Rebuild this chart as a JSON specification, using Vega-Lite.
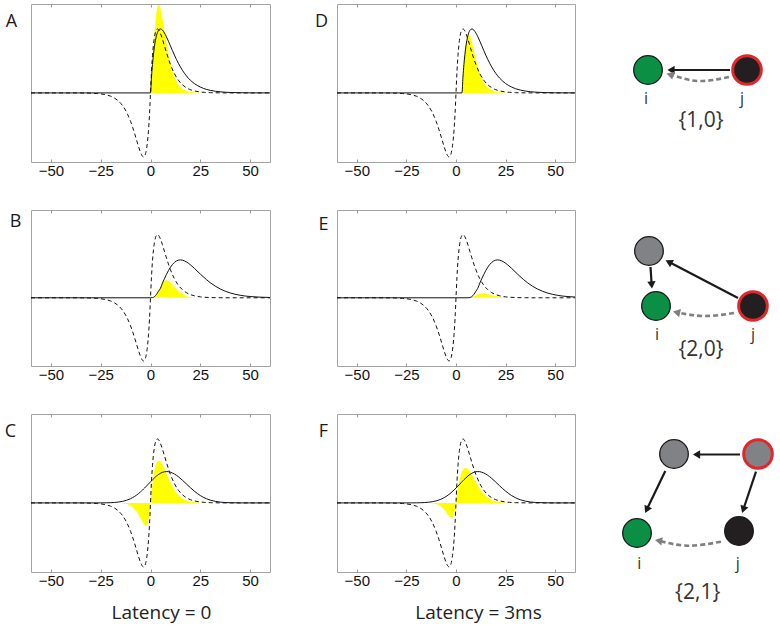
{
"$schema": "https://vega.github.io/schema/vega-lite/v6.json",
"padding": {"left": 3, "top": 3, "right": 0, "bottom": 0},
"background": "white",
"columns": 3,
"align": "each",
"bounds": "flush",
"spacing": {"row": 48, "column": 67},
"datasets": {
"dash": [{"x":-60,"d":0},{"x":-40,"d":0},{"x":-35,"d":-0.001},{"x":-30,"d":-0.004},{"x":-27,"d":-0.009},{"x":-25,"d":-0.015},{"x":-22,"d":-0.032},{"x":-20,"d":-0.051},{"x":-18,"d":-0.082},{"x":-16,"d":-0.129},{"x":-14,"d":-0.199},{"x":-12,"d":-0.302},{"x":-10,"d":-0.446},{"x":-9,"d":-0.534},{"x":-8,"d":-0.632},{"x":-7,"d":-0.736},{"x":-6,"d":-0.84},{"x":-5,"d":-0.93},{"x":-4.5,"d":-0.966},{"x":-4,"d":-0.991},{"x":-3.5,"d":-1},{"x":-3,"d":-0.988},{"x":-2.5,"d":-0.951},{"x":-2,"d":-0.877},{"x":-1.5,"d":-0.759},{"x":-1,"d":-0.584},{"x":-0.5,"d":-0.337},{"x":0,"d":0},{"x":0.5,"d":0.337},{"x":1,"d":0.584},{"x":1.5,"d":0.759},{"x":2,"d":0.877},{"x":2.5,"d":0.951},{"x":3,"d":0.988},{"x":3.5,"d":1},{"x":4,"d":0.991},{"x":4.5,"d":0.966},{"x":5,"d":0.93},{"x":6,"d":0.84},{"x":7,"d":0.736},{"x":8,"d":0.632},{"x":9,"d":0.534},{"x":10,"d":0.446},{"x":12,"d":0.302},{"x":14,"d":0.199},{"x":16,"d":0.129},{"x":18,"d":0.082},{"x":20,"d":0.051},{"x":22,"d":0.032},{"x":25,"d":0.015},{"x":27,"d":0.009},{"x":30,"d":0.004},{"x":35,"d":0.001},{"x":40,"d":0},{"x":60,"d":0}],
"A": [{"x":-60,"s":0,"y":0},{"x":0,"s":0,"y":0},{"x":0.5,"s":0.246,"y":0.118},{"x":1,"s":0.445,"y":0.369},{"x":1.5,"s":0.604,"y":0.651},{"x":2,"s":0.729,"y":0.907},{"x":2.5,"s":0.824,"y":1.113},{"x":3,"s":0.895,"y":1.255},{"x":3.5,"s":0.945,"y":1.342},{"x":4,"s":0.977,"y":1.375},{"x":4.5,"s":0.995,"y":1.365},{"x":5,"s":1,"y":1.321},{"x":6,"s":0.982,"y":1.172},{"x":7,"s":0.938,"y":0.98},{"x":8,"s":0.878,"y":0.788},{"x":9,"s":0.809,"y":0.613},{"x":10,"s":0.736,"y":0.466},{"x":11,"s":0.663,"y":0.347},{"x":12,"s":0.592,"y":0.254},{"x":13,"s":0.525,"y":0.183},{"x":14,"s":0.463,"y":0.131},{"x":16,"s":0.355,"y":0.065},{"x":18,"s":0.267,"y":0.031},{"x":20,"s":0.199,"y":0.014},{"x":22,"s":0.147,"y":0.007},{"x":25,"s":0.092,"y":0.002},{"x":28,"s":0.056,"y":0},{"x":30,"s":0.04,"y":0},{"x":35,"s":0.017,"y":0},{"x":40,"s":0.007,"y":0},{"x":45,"s":0.003,"y":0},{"x":50,"s":0.001,"y":0},{"x":60,"s":0,"y":0}],
"B": [{"x":-60,"s":0,"y":0},{"x":0,"s":0,"y":0},{"x":1,"s":0.003,"y":0.002},{"x":2,"s":0.019,"y":0.019},{"x":3,"s":0.053,"y":0.053},{"x":4,"s":0.103,"y":0.103},{"x":5,"s":0.151,"y":0.151},{"x":6,"s":0.232,"y":0.225},{"x":7,"s":0.302,"y":0.265},{"x":8,"s":0.369,"y":0.28},{"x":9,"s":0.43,"y":0.268},{"x":10,"s":0.483,"y":0.245},{"x":11,"s":0.527,"y":0.21},{"x":12,"s":0.56,"y":0.175},{"x":13,"s":0.583,"y":0.14},{"x":14,"s":0.596,"y":0.11},{"x":15,"s":0.6,"y":0.085},{"x":16,"s":0.596,"y":0.06},{"x":18,"s":0.569,"y":0.03},{"x":20,"s":0.523,"y":0.012},{"x":22,"s":0.467,"y":0.004},{"x":25,"s":0.376,"y":0},{"x":28,"s":0.29,"y":0},{"x":30,"s":0.239,"y":0},{"x":35,"s":0.14,"y":0},{"x":40,"s":0.077,"y":0},{"x":45,"s":0.04,"y":0},{"x":50,"s":0.02,"y":0},{"x":55,"s":0.01,"y":0},{"x":60,"s":0.005,"y":0}],
"C": [{"x":-60,"s":0,"y":0},{"x":-40,"s":0,"y":0},{"x":-30,"s":0,"y":0},{"x":-25,"s":0.0006,"y":0},{"x":-22,"s":0.0019,"y":0},{"x":-20,"s":0.0039,"y":-0.0003},{"x":-18,"s":0.0075,"y":-0.0009},{"x":-16,"s":0.014,"y":-0.0027},{"x":-14,"s":0.0247,"y":-0.0074},{"x":-12,"s":0.0415,"y":-0.0188},{"x":-10,"s":0.0663,"y":-0.0444},{"x":-9,"s":0.0823,"y":-0.0659},{"x":-8,"s":0.101,"y":-0.0957},{"x":-7,"s":0.122,"y":-0.1347},{"x":-6,"s":0.146,"y":-0.184},{"x":-5,"s":0.173,"y":-0.241},{"x":-4.5,"s":0.187,"y":-0.271},{"x":-4,"s":0.201,"y":-0.299},{"x":-3.5,"s":0.217,"y":-0.3255},{"x":-3,"s":0.232,"y":-0.344},{"x":-2.5,"s":0.248,"y":-0.354},{"x":-2,"s":0.264,"y":-0.347},{"x":-1.5,"s":0.281,"y":-0.32},{"x":-1,"s":0.297,"y":-0.26},{"x":-0.5,"s":0.314,"y":-0.159},{"x":0,"s":0.33,"y":0},{"x":0.5,"s":0.346,"y":0.175},{"x":1,"s":0.362,"y":0.317},{"x":1.5,"s":0.377,"y":0.429},{"x":2,"s":0.392,"y":0.516},{"x":2.5,"s":0.407,"y":0.581},{"x":3,"s":0.42,"y":0.622},{"x":3.5,"s":0.432,"y":0.648},{"x":4,"s":0.444,"y":0.66},{"x":4.5,"s":0.454,"y":0.658},{"x":5,"s":0.464,"y":0.647},{"x":6,"s":0.478,"y":0.602},{"x":7,"s":0.487,"y":0.538},{"x":8,"s":0.49,"y":0.465},{"x":9,"s":0.488,"y":0.391},{"x":10,"s":0.48,"y":0.321},{"x":11,"s":0.468,"y":0.259},{"x":12,"s":0.452,"y":0.205},{"x":13,"s":0.432,"y":0.159},{"x":14,"s":0.409,"y":0.122},{"x":16,"s":0.356,"y":0.069},{"x":18,"s":0.297,"y":0.036},{"x":20,"s":0.239,"y":0.018},{"x":22,"s":0.184,"y":0.009},{"x":25,"s":0.1155,"y":0.003},{"x":28,"s":0.066,"y":0.001},{"x":30,"s":0.0436,"y":0},{"x":35,"s":0.0128,"y":0},{"x":40,"s":0.0029,"y":0},{"x":45,"s":0.0005,"y":0},{"x":50,"s":0,"y":0},{"x":60,"s":0,"y":0}],
"D": [{"x":-60,"s":0,"y":0},{"x":3,"s":0,"y":0},{"x":3.5,"s":0.246,"y":0.246},{"x":4,"s":0.445,"y":0.445},{"x":4.5,"s":0.604,"y":0.604},{"x":5,"s":0.729,"y":0.729},{"x":5.5,"s":0.824,"y":0.824},{"x":6,"s":0.895,"y":0.895},{"x":6.5,"s":0.945,"y":0.925},{"x":7,"s":0.977,"y":0.9},{"x":8,"s":1,"y":0.796},{"x":9,"s":0.982,"y":0.661},{"x":10,"s":0.938,"y":0.527},{"x":11,"s":0.878,"y":0.408},{"x":12,"s":0.809,"y":0.308},{"x":13,"s":0.736,"y":0.228},{"x":14,"s":0.663,"y":0.166},{"x":16,"s":0.525,"y":0.085},{"x":18,"s":0.406,"y":0.042},{"x":20,"s":0.308,"y":0.02},{"x":22,"s":0.231,"y":0.009},{"x":25,"s":0.147,"y":0.003},{"x":28,"s":0.092,"y":0},{"x":30,"s":0.066,"y":0},{"x":35,"s":0.029,"y":0},{"x":40,"s":0.012,"y":0},{"x":45,"s":0.005,"y":0},{"x":50,"s":0.002,"y":0},{"x":55,"s":0.001,"y":0},{"x":60,"s":0,"y":0}],
"E": [{"x":-60,"s":0,"y":0},{"x":6,"s":0,"y":0},{"x":7,"s":0.003,"y":0.002},{"x":8,"s":0.019,"y":0.011},{"x":9,"s":0.053,"y":0.026},{"x":10,"s":0.103,"y":0.042},{"x":11,"s":0.151,"y":0.052},{"x":12,"s":0.232,"y":0.064},{"x":13,"s":0.302,"y":0.068},{"x":14,"s":0.369,"y":0.067},{"x":15,"s":0.43,"y":0.063},{"x":16,"s":0.483,"y":0.057},{"x":17,"s":0.527,"y":0.05},{"x":18,"s":0.56,"y":0.042},{"x":19,"s":0.583,"y":0.035},{"x":20,"s":0.596,"y":0.028},{"x":21,"s":0.6,"y":0.022},{"x":22,"s":0.596,"y":0.017},{"x":24,"s":0.569,"y":0.01},{"x":26,"s":0.523,"y":0.006},{"x":28,"s":0.467,"y":0.003},{"x":31,"s":0.376,"y":0.001},{"x":34,"s":0.29,"y":0},{"x":36,"s":0.239,"y":0},{"x":41,"s":0.14,"y":0},{"x":46,"s":0.077,"y":0},{"x":51,"s":0.04,"y":0},{"x":56,"s":0.02,"y":0},{"x":60,"s":0.012,"y":0}],
"F": [{"x":-60,"s":0,"y":0},{"x":-40,"s":0,"y":0},{"x":-30,"s":0,"y":0},{"x":-25,"s":0.0002,"y":0},{"x":-22,"s":0.0006,"y":0},{"x":-20,"s":0.0013,"y":0},{"x":-18,"s":0.0027,"y":0},{"x":-16,"s":0.0054,"y":-0.001},{"x":-14,"s":0.0103,"y":-0.003},{"x":-12,"s":0.0187,"y":-0.0085},{"x":-10,"s":0.0322,"y":-0.0215},{"x":-9,"s":0.0415,"y":-0.0332},{"x":-8,"s":0.0528,"y":-0.05},{"x":-7,"s":0.0663,"y":-0.073},{"x":-6,"s":0.0823,"y":-0.104},{"x":-5,"s":0.101,"y":-0.141},{"x":-4.5,"s":0.111,"y":-0.161},{"x":-4,"s":0.122,"y":-0.181},{"x":-3.5,"s":0.134,"y":-0.201},{"x":-3,"s":0.146,"y":-0.216},{"x":-2.5,"s":0.159,"y":-0.227},{"x":-2,"s":0.173,"y":-0.228},{"x":-1.5,"s":0.187,"y":-0.213},{"x":-1,"s":0.201,"y":-0.176},{"x":-0.5,"s":0.217,"y":-0.11},{"x":0,"s":0.232,"y":0},{"x":0.5,"s":0.248,"y":0.125},{"x":1,"s":0.264,"y":0.231},{"x":1.5,"s":0.281,"y":0.32},{"x":2,"s":0.297,"y":0.391},{"x":2.5,"s":0.314,"y":0.448},{"x":3,"s":0.33,"y":0.489},{"x":3.5,"s":0.346,"y":0.519},{"x":4,"s":0.362,"y":0.538},{"x":4.5,"s":0.377,"y":0.546},{"x":5,"s":0.392,"y":0.547},{"x":6,"s":0.42,"y":0.529},{"x":7,"s":0.444,"y":0.49},{"x":8,"s":0.464,"y":0.44},{"x":9,"s":0.478,"y":0.383},{"x":10,"s":0.487,"y":0.326},{"x":11,"s":0.49,"y":0.271},{"x":12,"s":0.488,"y":0.221},{"x":13,"s":0.48,"y":0.177},{"x":14,"s":0.468,"y":0.14},{"x":16,"s":0.432,"y":0.083},{"x":18,"s":0.3835,"y":0.047},{"x":20,"s":0.327,"y":0.025},{"x":22,"s":0.2675,"y":0.013},{"x":25,"s":0.184,"y":0.004},{"x":28,"s":0.1155,"y":0.001},{"x":30,"s":0.0806,"y":0},{"x":35,"s":0.0275,"y":0},{"x":40,"s":0.0073,"y":0},{"x":45,"s":0.0015,"y":0},{"x":50,"s":0.0002,"y":0},{"x":60,"s":0,"y":0}],
"n1": [
{"kind":"node","x":6,"y":66,"role":"target","ring":"no"},
{"kind":"node","x":105,"y":66,"role":"source","ring":"red"},
{"kind":"edge","x":88,"y":66,"x2":30,"y2":66},
{"kind":"head","x":29,"y":66,"ang":270,"style":"solid"},
{"kind":"curve","x":87,"y":73,"seq":1},{"kind":"curve","x":56,"y":77,"seq":2},{"kind":"curve","x":29,"y":70.5,"seq":3},
{"kind":"head","x":28,"y":70.5,"ang":288,"style":"dashed"},
{"kind":"label","x":4,"y":100,"txt":"i"},
{"kind":"label","x":100,"y":100,"txt":"j"},
{"kind":"caption","x":59,"y":123,"txt":"{1,0}"}
],
"n2": [
{"kind":"node","x":7,"y":41,"role":"relay","ring":"no"},
{"kind":"node","x":14,"y":96,"role":"target","ring":"no"},
{"kind":"node","x":111,"y":96,"role":"source","ring":"red"},
{"kind":"edge","x":96,"y":88,"x2":28,"y2":52.5},
{"kind":"edge","x":8.5,"y":57,"x2":9.6,"y2":74},
{"kind":"head","x":26.8,"y":51.9,"ang":298,"style":"solid"},
{"kind":"head","x":9.7,"y":75,"ang":176,"style":"solid"},
{"kind":"curve","x":92,"y":103,"seq":1},{"kind":"curve","x":62,"y":106,"seq":2},{"kind":"curve","x":35,"y":102.3,"seq":3},
{"kind":"head","x":34.5,"y":102.3,"ang":283,"style":"dashed"},
{"kind":"label","x":15,"y":130,"txt":"i"},
{"kind":"label","x":111,"y":130,"txt":"j"},
{"kind":"caption","x":59,"y":146,"txt":"{2,0}"}
],
"n3": [
{"kind":"node","x":32,"y":40,"role":"relay","ring":"no"},
{"kind":"node","x":116,"y":40,"role":"relay","ring":"red"},
{"kind":"node","x":-5,"y":119,"role":"target","ring":"no"},
{"kind":"node","x":97,"y":117,"role":"source","ring":"no"},
{"kind":"edge","x":98,"y":40.5,"x2":56,"y2":40.5},
{"kind":"edge","x":23.3,"y":57,"x2":5.5,"y2":94},
{"kind":"edge","x":114,"y":57.7,"x2":101.8,"y2":94},
{"kind":"head","x":54.5,"y":40.5,"ang":270,"style":"solid"},
{"kind":"head","x":4.7,"y":95.7,"ang":205.6,"style":"solid"},
{"kind":"head","x":101.3,"y":95.5,"ang":198.6,"style":"solid"},
{"kind":"curve","x":79,"y":127.7,"seq":1},{"kind":"curve","x":45.7,"y":131.7,"seq":2},{"kind":"curve","x":17,"y":126.7,"seq":3},
{"kind":"head","x":16.5,"y":126.7,"ang":280,"style":"dashed"},
{"kind":"label","x":-2.7,"y":155,"txt":"i"},
{"kind":"label","x":95.7,"y":155,"txt":"j"},
{"kind":"caption","x":55.7,"y":185,"txt":"{2,1}"}
]
},
"concat": [
{"width":239,"height":158,"resolve":{"axis":{"x":"independent"}},"layer":[
{"data":{"name":"A"},"mark":{"type":"area","color":"#ffff00","interpolate":"monotone"},"encoding":{"x":{"field":"x","type":"quantitative","scale":{"domain":[-60,60],"nice":false,"zero":false},"axis":{"orient":"bottom","values":[-50,-25,0,25,50],"tickSize":-3,"tickColor":"#999","labelPadding":4,"labelFontSize":15,"labelColor":"#111","labelFlush":false,"domain":false,"grid":false,"title":null}},"y":{"field":"y","type":"quantitative","scale":{"domain":[-1.08,1.39],"nice":false,"zero":false},"axis":{"title":"A","titleAngle":0,"titleX":-20,"titleY":22,"titleAlign":"center","titleBaseline":"alphabetic","titleFontSize":18,"titleFontWeight":"normal","titleColor":"#1a1a1a","labels":false,"ticks":false,"domain":false,"grid":false}},"y2":{"datum":0}}},
{"data":{"name":"dash"},"mark":{"type":"line","color":"#111","strokeWidth":1,"strokeDash":[4,3],"interpolate":"monotone"},"encoding":{"x":{"field":"x","type":"quantitative","scale":{"domain":[-60,60],"nice":false,"zero":false},"axis":null},"y":{"field":"d","type":"quantitative","scale":{"domain":[-1.08,1.39],"nice":false,"zero":false},"axis":{"title":"A","titleAngle":0,"titleX":-20,"titleY":22,"titleAlign":"center","titleBaseline":"alphabetic","titleFontSize":18,"titleFontWeight":"normal","titleColor":"#1a1a1a","labels":false,"ticks":false,"domain":false,"grid":false}}}},
{"data":{"name":"A"},"mark":{"type":"line","color":"#111","strokeWidth":1,"interpolate":"monotone"},"encoding":{"x":{"field":"x","type":"quantitative","scale":{"domain":[-60,60],"nice":false,"zero":false},"axis":null},"y":{"field":"s","type":"quantitative","scale":{"domain":[-1.08,1.39],"nice":false,"zero":false},"axis":{"title":"A","titleAngle":0,"titleX":-20,"titleY":22,"titleAlign":"center","titleBaseline":"alphabetic","titleFontSize":18,"titleFontWeight":"normal","titleColor":"#1a1a1a","labels":false,"ticks":false,"domain":false,"grid":false}}}},
{"data":{"name":"A"},"mark":{"type":"line","opacity":0},"encoding":{"x":{"field":"x","type":"quantitative","scale":{"domain":[-60,60],"nice":false,"zero":false},"axis":{"orient":"top","values":[-50,-25,0,25,50],"tickSize":-3,"tickColor":"#999","labels":false,"domain":false,"grid":false,"title":null}},"y":{"field":"s","type":"quantitative","scale":{"domain":[-1.08,1.39],"nice":false,"zero":false},"axis":{"title":"A","titleAngle":0,"titleX":-20,"titleY":22,"titleAlign":"center","titleBaseline":"alphabetic","titleFontSize":18,"titleFontWeight":"normal","titleColor":"#1a1a1a","labels":false,"ticks":false,"domain":false,"grid":false}}}}
]},
{"width":238,"height":158,"resolve":{"axis":{"x":"independent"}},"layer":[
{"data":{"name":"D"},"mark":{"type":"area","color":"#ffff00","interpolate":"monotone"},"encoding":{"x":{"field":"x","type":"quantitative","scale":{"domain":[-60,60],"nice":false,"zero":false},"axis":{"orient":"bottom","values":[-50,-25,0,25,50],"tickSize":-3,"tickColor":"#999","labelPadding":4,"labelFontSize":15,"labelColor":"#111","labelFlush":false,"domain":false,"grid":false,"title":null}},"y":{"field":"y","type":"quantitative","scale":{"domain":[-1.08,1.39],"nice":false,"zero":false},"axis":{"title":"D","titleAngle":0,"titleX":-16,"titleY":22,"titleAlign":"center","titleBaseline":"alphabetic","titleFontSize":18,"titleFontWeight":"normal","titleColor":"#1a1a1a","labels":false,"ticks":false,"domain":false,"grid":false}},"y2":{"datum":0}}},
{"data":{"name":"dash"},"mark":{"type":"line","color":"#111","strokeWidth":1,"strokeDash":[4,3],"interpolate":"monotone"},"encoding":{"x":{"field":"x","type":"quantitative","scale":{"domain":[-60,60],"nice":false,"zero":false},"axis":null},"y":{"field":"d","type":"quantitative","scale":{"domain":[-1.08,1.39],"nice":false,"zero":false},"axis":{"title":"D","titleAngle":0,"titleX":-16,"titleY":22,"titleAlign":"center","titleBaseline":"alphabetic","titleFontSize":18,"titleFontWeight":"normal","titleColor":"#1a1a1a","labels":false,"ticks":false,"domain":false,"grid":false}}}},
{"data":{"name":"D"},"mark":{"type":"line","color":"#111","strokeWidth":1,"interpolate":"monotone"},"encoding":{"x":{"field":"x","type":"quantitative","scale":{"domain":[-60,60],"nice":false,"zero":false},"axis":null},"y":{"field":"s","type":"quantitative","scale":{"domain":[-1.08,1.39],"nice":false,"zero":false},"axis":{"title":"D","titleAngle":0,"titleX":-16,"titleY":22,"titleAlign":"center","titleBaseline":"alphabetic","titleFontSize":18,"titleFontWeight":"normal","titleColor":"#1a1a1a","labels":false,"ticks":false,"domain":false,"grid":false}}}},
{"data":{"name":"D"},"mark":{"type":"line","opacity":0},"encoding":{"x":{"field":"x","type":"quantitative","scale":{"domain":[-60,60],"nice":false,"zero":false},"axis":{"orient":"top","values":[-50,-25,0,25,50],"tickSize":-3,"tickColor":"#999","labels":false,"domain":false,"grid":false,"title":null}},"y":{"field":"s","type":"quantitative","scale":{"domain":[-1.08,1.39],"nice":false,"zero":false},"axis":{"title":"D","titleAngle":0,"titleX":-16,"titleY":22,"titleAlign":"center","titleBaseline":"alphabetic","titleFontSize":18,"titleFontWeight":"normal","titleColor":"#1a1a1a","labels":false,"ticks":false,"domain":false,"grid":false}}}}
]},
{"width":139,"height":158,"view":{"stroke":null},"data":{"name":"n1"},"encoding":{"x":{"field":"x","type":"quantitative","scale":{"domain":[0,139],"nice":false,"zero":false},"axis":null},"y":{"field":"y","type":"quantitative","scale":{"domain":[0,158],"reverse":true,"nice":false,"zero":false},"axis":null}},"layer":[
{"transform":[{"filter":"datum.kind==='edge'"}],"mark":{"type":"rule","color":"#1a1a1a","strokeWidth":2.2},"encoding":{"x2":{"field":"x2"},"y2":{"field":"y2"}}},
{"transform":[{"filter":"datum.kind==='curve'"}],"mark":{"type":"line","color":"#7f7f7f","strokeWidth":2.6,"strokeDash":[5,3],"interpolate":"natural"},"encoding":{"order":{"field":"seq","type":"quantitative"}}},
{"transform":[{"filter":"datum.kind==='head'"}],"mark":{"type":"point","shape":"triangle-up","filled":true,"size":70,"opacity":1},"encoding":{"angle":{"field":"ang","type":"quantitative","scale":null},"color":{"field":"style","type":"nominal","scale":{"domain":["solid","dashed"],"range":["#1a1a1a","#7f7f7f"]},"legend":null}}},
{"transform":[{"filter":"datum.kind==='node'"}],"mark":{"type":"point","shape":"circle","filled":true,"size":820,"opacity":1},"encoding":{"fill":{"field":"role","type":"nominal","scale":{"domain":["target","source","relay"],"range":["#0b8f45","#231f20","#808285"]},"legend":null},"stroke":{"field":"ring","type":"nominal","scale":{"domain":["red","no"],"range":["#e1262c","#1a1a1a"]},"legend":null},"strokeWidth":{"condition":{"test":"datum.ring==='red'","value":3},"value":1.3}}},
{"transform":[{"filter":"datum.kind==='label'"}],"mark":{"type":"text","font":"Open Sans","fontSize":16,"color":"#333","align":"center","baseline":"alphabetic"},"encoding":{"text":{"field":"txt"}}},
{"transform":[{"filter":"datum.kind==='caption'"}],"mark":{"type":"text","font":"Open Sans","fontSize":21,"color":"#333","align":"center","baseline":"alphabetic"},"encoding":{"text":{"field":"txt"}}}
]},
{"width":239,"height":156,"resolve":{"axis":{"x":"independent"}},"layer":[
{"data":{"name":"B"},"mark":{"type":"area","color":"#ffff00","interpolate":"monotone"},"encoding":{"x":{"field":"x","type":"quantitative","scale":{"domain":[-60,60],"nice":false,"zero":false},"axis":{"orient":"bottom","values":[-50,-25,0,25,50],"tickSize":-3,"tickColor":"#999","labelPadding":4,"labelFontSize":15,"labelColor":"#111","labelFlush":false,"domain":false,"grid":false,"title":null}},"y":{"field":"y","type":"quantitative","scale":{"domain":[-1.08,1.39],"nice":false,"zero":false},"axis":{"title":"B","titleAngle":0,"titleX":-16,"titleY":16,"titleAlign":"center","titleBaseline":"alphabetic","titleFontSize":18,"titleFontWeight":"normal","titleColor":"#1a1a1a","labels":false,"ticks":false,"domain":false,"grid":false}},"y2":{"datum":0}}},
{"data":{"name":"dash"},"mark":{"type":"line","color":"#111","strokeWidth":1,"strokeDash":[4,3],"interpolate":"monotone"},"encoding":{"x":{"field":"x","type":"quantitative","scale":{"domain":[-60,60],"nice":false,"zero":false},"axis":null},"y":{"field":"d","type":"quantitative","scale":{"domain":[-1.08,1.39],"nice":false,"zero":false},"axis":{"title":"B","titleAngle":0,"titleX":-16,"titleY":16,"titleAlign":"center","titleBaseline":"alphabetic","titleFontSize":18,"titleFontWeight":"normal","titleColor":"#1a1a1a","labels":false,"ticks":false,"domain":false,"grid":false}}}},
{"data":{"name":"B"},"mark":{"type":"line","color":"#111","strokeWidth":1,"interpolate":"monotone"},"encoding":{"x":{"field":"x","type":"quantitative","scale":{"domain":[-60,60],"nice":false,"zero":false},"axis":null},"y":{"field":"s","type":"quantitative","scale":{"domain":[-1.08,1.39],"nice":false,"zero":false},"axis":{"title":"B","titleAngle":0,"titleX":-16,"titleY":16,"titleAlign":"center","titleBaseline":"alphabetic","titleFontSize":18,"titleFontWeight":"normal","titleColor":"#1a1a1a","labels":false,"ticks":false,"domain":false,"grid":false}}}},
{"data":{"name":"B"},"mark":{"type":"line","opacity":0},"encoding":{"x":{"field":"x","type":"quantitative","scale":{"domain":[-60,60],"nice":false,"zero":false},"axis":{"orient":"top","values":[-50,-25,0,25,50],"tickSize":-3,"tickColor":"#999","labels":false,"domain":false,"grid":false,"title":null}},"y":{"field":"s","type":"quantitative","scale":{"domain":[-1.08,1.39],"nice":false,"zero":false},"axis":{"title":"B","titleAngle":0,"titleX":-16,"titleY":16,"titleAlign":"center","titleBaseline":"alphabetic","titleFontSize":18,"titleFontWeight":"normal","titleColor":"#1a1a1a","labels":false,"ticks":false,"domain":false,"grid":false}}}}
]},
{"width":238,"height":156,"resolve":{"axis":{"x":"independent"}},"layer":[
{"data":{"name":"E"},"mark":{"type":"area","color":"#ffff00","interpolate":"monotone"},"encoding":{"x":{"field":"x","type":"quantitative","scale":{"domain":[-60,60],"nice":false,"zero":false},"axis":{"orient":"bottom","values":[-50,-25,0,25,50],"tickSize":-3,"tickColor":"#999","labelPadding":4,"labelFontSize":15,"labelColor":"#111","labelFlush":false,"domain":false,"grid":false,"title":null}},"y":{"field":"y","type":"quantitative","scale":{"domain":[-1.08,1.39],"nice":false,"zero":false},"axis":{"title":"E","titleAngle":0,"titleX":-14,"titleY":19,"titleAlign":"center","titleBaseline":"alphabetic","titleFontSize":18,"titleFontWeight":"normal","titleColor":"#1a1a1a","labels":false,"ticks":false,"domain":false,"grid":false}},"y2":{"datum":0}}},
{"data":{"name":"dash"},"mark":{"type":"line","color":"#111","strokeWidth":1,"strokeDash":[4,3],"interpolate":"monotone"},"encoding":{"x":{"field":"x","type":"quantitative","scale":{"domain":[-60,60],"nice":false,"zero":false},"axis":null},"y":{"field":"d","type":"quantitative","scale":{"domain":[-1.08,1.39],"nice":false,"zero":false},"axis":{"title":"E","titleAngle":0,"titleX":-14,"titleY":19,"titleAlign":"center","titleBaseline":"alphabetic","titleFontSize":18,"titleFontWeight":"normal","titleColor":"#1a1a1a","labels":false,"ticks":false,"domain":false,"grid":false}}}},
{"data":{"name":"E"},"mark":{"type":"line","color":"#111","strokeWidth":1,"interpolate":"monotone"},"encoding":{"x":{"field":"x","type":"quantitative","scale":{"domain":[-60,60],"nice":false,"zero":false},"axis":null},"y":{"field":"s","type":"quantitative","scale":{"domain":[-1.08,1.39],"nice":false,"zero":false},"axis":{"title":"E","titleAngle":0,"titleX":-14,"titleY":19,"titleAlign":"center","titleBaseline":"alphabetic","titleFontSize":18,"titleFontWeight":"normal","titleColor":"#1a1a1a","labels":false,"ticks":false,"domain":false,"grid":false}}}},
{"data":{"name":"E"},"mark":{"type":"line","opacity":0},"encoding":{"x":{"field":"x","type":"quantitative","scale":{"domain":[-60,60],"nice":false,"zero":false},"axis":{"orient":"top","values":[-50,-25,0,25,50],"tickSize":-3,"tickColor":"#999","labels":false,"domain":false,"grid":false,"title":null}},"y":{"field":"s","type":"quantitative","scale":{"domain":[-1.08,1.39],"nice":false,"zero":false},"axis":{"title":"E","titleAngle":0,"titleX":-14,"titleY":19,"titleAlign":"center","titleBaseline":"alphabetic","titleFontSize":18,"titleFontWeight":"normal","titleColor":"#1a1a1a","labels":false,"ticks":false,"domain":false,"grid":false}}}}
]},
{"width":139,"height":156,"view":{"stroke":null},"data":{"name":"n2"},"encoding":{"x":{"field":"x","type":"quantitative","scale":{"domain":[0,139],"nice":false,"zero":false},"axis":null},"y":{"field":"y","type":"quantitative","scale":{"domain":[0,156],"reverse":true,"nice":false,"zero":false},"axis":null}},"layer":[
{"transform":[{"filter":"datum.kind==='edge'"}],"mark":{"type":"rule","color":"#1a1a1a","strokeWidth":2.2},"encoding":{"x2":{"field":"x2"},"y2":{"field":"y2"}}},
{"transform":[{"filter":"datum.kind==='curve'"}],"mark":{"type":"line","color":"#7f7f7f","strokeWidth":2.6,"strokeDash":[5,3],"interpolate":"natural"},"encoding":{"order":{"field":"seq","type":"quantitative"}}},
{"transform":[{"filter":"datum.kind==='head'"}],"mark":{"type":"point","shape":"triangle-up","filled":true,"size":70,"opacity":1},"encoding":{"angle":{"field":"ang","type":"quantitative","scale":null},"color":{"field":"style","type":"nominal","scale":{"domain":["solid","dashed"],"range":["#1a1a1a","#7f7f7f"]},"legend":null}}},
{"transform":[{"filter":"datum.kind==='node'"}],"mark":{"type":"point","shape":"circle","filled":true,"size":820,"opacity":1},"encoding":{"fill":{"field":"role","type":"nominal","scale":{"domain":["target","source","relay"],"range":["#0b8f45","#231f20","#808285"]},"legend":null},"stroke":{"field":"ring","type":"nominal","scale":{"domain":["red","no"],"range":["#e1262c","#1a1a1a"]},"legend":null},"strokeWidth":{"condition":{"test":"datum.ring==='red'","value":3},"value":1.3}}},
{"transform":[{"filter":"datum.kind==='label'"}],"mark":{"type":"text","font":"Open Sans","fontSize":16,"color":"#333","align":"center","baseline":"alphabetic"},"encoding":{"text":{"field":"txt"}}},
{"transform":[{"filter":"datum.kind==='caption'"}],"mark":{"type":"text","font":"Open Sans","fontSize":21,"color":"#333","align":"center","baseline":"alphabetic"},"encoding":{"text":{"field":"txt"}}}
]},
{"width":239,"height":158,"resolve":{"axis":{"x":"independent"}},"layer":[
{"data":{"name":"C"},"mark":{"type":"area","color":"#ffff00","interpolate":"monotone"},"encoding":{"x":{"field":"x","type":"quantitative","scale":{"domain":[-60,60],"nice":false,"zero":false},"axis":{"orient":"bottom","values":[-50,-25,0,25,50],"tickSize":-3,"tickColor":"#999","labelPadding":4,"labelFontSize":15,"labelColor":"#111","labelFlush":false,"domain":false,"grid":false,"title":"Latency = 0","titleX":130,"titleY":46,"titleAlign":"center","titleBaseline":"alphabetic","titleFontSize":19,"titleFont":"Open Sans","titleFontWeight":"normal","titleColor":"#222"}},"y":{"field":"y","type":"quantitative","scale":{"domain":[-1.08,1.39],"nice":false,"zero":false},"axis":{"title":"C","titleAngle":0,"titleX":-21,"titleY":22,"titleAlign":"center","titleBaseline":"alphabetic","titleFontSize":18,"titleFontWeight":"normal","titleColor":"#1a1a1a","labels":false,"ticks":false,"domain":false,"grid":false}},"y2":{"datum":0}}},
{"data":{"name":"dash"},"mark":{"type":"line","color":"#111","strokeWidth":1,"strokeDash":[4,3],"interpolate":"monotone"},"encoding":{"x":{"field":"x","type":"quantitative","scale":{"domain":[-60,60],"nice":false,"zero":false},"axis":null},"y":{"field":"d","type":"quantitative","scale":{"domain":[-1.08,1.39],"nice":false,"zero":false},"axis":{"title":"C","titleAngle":0,"titleX":-21,"titleY":22,"titleAlign":"center","titleBaseline":"alphabetic","titleFontSize":18,"titleFontWeight":"normal","titleColor":"#1a1a1a","labels":false,"ticks":false,"domain":false,"grid":false}}}},
{"data":{"name":"C"},"mark":{"type":"line","color":"#111","strokeWidth":1,"interpolate":"monotone"},"encoding":{"x":{"field":"x","type":"quantitative","scale":{"domain":[-60,60],"nice":false,"zero":false},"axis":null},"y":{"field":"s","type":"quantitative","scale":{"domain":[-1.08,1.39],"nice":false,"zero":false},"axis":{"title":"C","titleAngle":0,"titleX":-21,"titleY":22,"titleAlign":"center","titleBaseline":"alphabetic","titleFontSize":18,"titleFontWeight":"normal","titleColor":"#1a1a1a","labels":false,"ticks":false,"domain":false,"grid":false}}}},
{"data":{"name":"C"},"mark":{"type":"line","opacity":0},"encoding":{"x":{"field":"x","type":"quantitative","scale":{"domain":[-60,60],"nice":false,"zero":false},"axis":{"orient":"top","values":[-50,-25,0,25,50],"tickSize":-3,"tickColor":"#999","labels":false,"domain":false,"grid":false,"title":null}},"y":{"field":"s","type":"quantitative","scale":{"domain":[-1.08,1.39],"nice":false,"zero":false},"axis":{"title":"C","titleAngle":0,"titleX":-21,"titleY":22,"titleAlign":"center","titleBaseline":"alphabetic","titleFontSize":18,"titleFontWeight":"normal","titleColor":"#1a1a1a","labels":false,"ticks":false,"domain":false,"grid":false}}}}
]},
{"width":238,"height":158,"resolve":{"axis":{"x":"independent"}},"layer":[
{"data":{"name":"F"},"mark":{"type":"area","color":"#ffff00","interpolate":"monotone"},"encoding":{"x":{"field":"x","type":"quantitative","scale":{"domain":[-60,60],"nice":false,"zero":false},"axis":{"orient":"bottom","values":[-50,-25,0,25,50],"tickSize":-3,"tickColor":"#999","labelPadding":4,"labelFontSize":15,"labelColor":"#111","labelFlush":false,"domain":false,"grid":false,"title":"Latency = 3ms","titleX":141,"titleY":46,"titleAlign":"center","titleBaseline":"alphabetic","titleFontSize":19,"titleFont":"Open Sans","titleFontWeight":"normal","titleColor":"#222"}},"y":{"field":"y","type":"quantitative","scale":{"domain":[-1.08,1.39],"nice":false,"zero":false},"axis":{"title":"F","titleAngle":0,"titleX":-14,"titleY":22,"titleAlign":"center","titleBaseline":"alphabetic","titleFontSize":18,"titleFontWeight":"normal","titleColor":"#1a1a1a","labels":false,"ticks":false,"domain":false,"grid":false}},"y2":{"datum":0}}},
{"data":{"name":"dash"},"mark":{"type":"line","color":"#111","strokeWidth":1,"strokeDash":[4,3],"interpolate":"monotone"},"encoding":{"x":{"field":"x","type":"quantitative","scale":{"domain":[-60,60],"nice":false,"zero":false},"axis":null},"y":{"field":"d","type":"quantitative","scale":{"domain":[-1.08,1.39],"nice":false,"zero":false},"axis":{"title":"F","titleAngle":0,"titleX":-14,"titleY":22,"titleAlign":"center","titleBaseline":"alphabetic","titleFontSize":18,"titleFontWeight":"normal","titleColor":"#1a1a1a","labels":false,"ticks":false,"domain":false,"grid":false}}}},
{"data":{"name":"F"},"mark":{"type":"line","color":"#111","strokeWidth":1,"interpolate":"monotone"},"encoding":{"x":{"field":"x","type":"quantitative","scale":{"domain":[-60,60],"nice":false,"zero":false},"axis":null},"y":{"field":"s","type":"quantitative","scale":{"domain":[-1.08,1.39],"nice":false,"zero":false},"axis":{"title":"F","titleAngle":0,"titleX":-14,"titleY":22,"titleAlign":"center","titleBaseline":"alphabetic","titleFontSize":18,"titleFontWeight":"normal","titleColor":"#1a1a1a","labels":false,"ticks":false,"domain":false,"grid":false}}}},
{"data":{"name":"F"},"mark":{"type":"line","opacity":0},"encoding":{"x":{"field":"x","type":"quantitative","scale":{"domain":[-60,60],"nice":false,"zero":false},"axis":{"orient":"top","values":[-50,-25,0,25,50],"tickSize":-3,"tickColor":"#999","labels":false,"domain":false,"grid":false,"title":null}},"y":{"field":"s","type":"quantitative","scale":{"domain":[-1.08,1.39],"nice":false,"zero":false},"axis":{"title":"F","titleAngle":0,"titleX":-14,"titleY":22,"titleAlign":"center","titleBaseline":"alphabetic","titleFontSize":18,"titleFontWeight":"normal","titleColor":"#1a1a1a","labels":false,"ticks":false,"domain":false,"grid":false}}}}
]},
{"width":139,"height":158,"view":{"stroke":null},"data":{"name":"n3"},"encoding":{"x":{"field":"x","type":"quantitative","scale":{"domain":[0,139],"nice":false,"zero":false},"axis":null},"y":{"field":"y","type":"quantitative","scale":{"domain":[0,158],"reverse":true,"nice":false,"zero":false},"axis":null}},"layer":[
{"transform":[{"filter":"datum.kind==='edge'"}],"mark":{"type":"rule","color":"#1a1a1a","strokeWidth":2.2},"encoding":{"x2":{"field":"x2"},"y2":{"field":"y2"}}},
{"transform":[{"filter":"datum.kind==='curve'"}],"mark":{"type":"line","color":"#7f7f7f","strokeWidth":2.6,"strokeDash":[5,3],"interpolate":"natural"},"encoding":{"order":{"field":"seq","type":"quantitative"}}},
{"transform":[{"filter":"datum.kind==='head'"}],"mark":{"type":"point","shape":"triangle-up","filled":true,"size":70,"opacity":1},"encoding":{"angle":{"field":"ang","type":"quantitative","scale":null},"color":{"field":"style","type":"nominal","scale":{"domain":["solid","dashed"],"range":["#1a1a1a","#7f7f7f"]},"legend":null}}},
{"transform":[{"filter":"datum.kind==='node'"}],"mark":{"type":"point","shape":"circle","filled":true,"size":820,"opacity":1},"encoding":{"fill":{"field":"role","type":"nominal","scale":{"domain":["target","source","relay"],"range":["#0b8f45","#231f20","#808285"]},"legend":null},"stroke":{"field":"ring","type":"nominal","scale":{"domain":["red","no"],"range":["#e1262c","#1a1a1a"]},"legend":null},"strokeWidth":{"condition":{"test":"datum.ring==='red'","value":3},"value":1.3}}},
{"transform":[{"filter":"datum.kind==='label'"}],"mark":{"type":"text","font":"Open Sans","fontSize":16,"color":"#333","align":"center","baseline":"alphabetic"},"encoding":{"text":{"field":"txt"}}},
{"transform":[{"filter":"datum.kind==='caption'"}],"mark":{"type":"text","font":"Open Sans","fontSize":21,"color":"#333","align":"center","baseline":"alphabetic"},"encoding":{"text":{"field":"txt"}}}
]}
],
"config": {
"view": {"stroke": "#a3a3a3", "strokeWidth": 1},
"axis": {"labelFont": "Liberation Sans", "titleFont": "Open Sans"},
"text": {"font": "Open Sans"}
}
}
